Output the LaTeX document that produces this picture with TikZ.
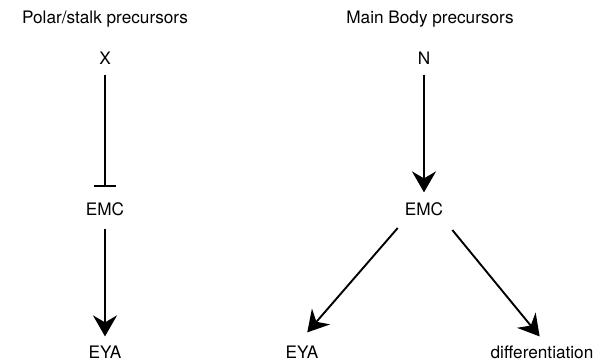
\documentclass[tikz,border=0pt]{standalone}
\usepackage{fontspec}
\setmainfont{TeX Gyre Heros}
\usetikzlibrary{arrows.meta}

\begin{document}
\begin{tikzpicture}[x=0.5pt, y=-0.5pt, >={Stealth[length=10.5pt, width=12pt, inset=3.5pt]},
    lbl/.style={inner sep=0pt, text height=6.2pt, text depth=0pt, font=\fontsize{8.6}{10}\selectfont},
    act/.style={->, line width=0.95pt},
    inh/.style={-{Bar[width=11pt, line width=0.95pt]}, line width=0.95pt}]
    \useasboundingbox (0,0) rectangle (607,362);
    % polar/stalk side
    \node[lbl] (polar) at (105,17) {Polar/stalk precursors};
    \node[lbl] (x) at (105,58) {X};
    \node[lbl] (emcA) at (105,209) {EMC};
    \node[lbl] (eyaA) at (105,352) {EYA};
    \draw[inh, shorten <=5pt, shorten >=7.5pt] (x) -- (emcA);
    \draw[act, shorten <=6.5pt, shorten >=4.5pt] (emcA) -- (eyaA);
    % main body side
    \node[lbl] (body) at (430,17) {Main Body precursors};
    \node[lbl] (n) at (424,58) {N};
    \node[lbl] (emcB) at (424,209) {EMC};
    \node[lbl] (eyaB) at (302,352) {EYA};
    \node[lbl] (diff) at (542,352) {differentiation};
    \draw[act, shorten <=5pt, shorten >=5pt] (n) -- (emcB);
    \draw[act, shorten <=8.2pt, shorten >=8.6pt] ([xshift=2pt]emcB.south west) -- ([xshift=-3pt]eyaB.north);
    \draw[act, shorten <=9.3pt, shorten >=5.8pt] ([xshift=-1.5pt]emcB.south east) -- ([xshift=2.5pt]diff.north);
\end{tikzpicture}
\end{document}
